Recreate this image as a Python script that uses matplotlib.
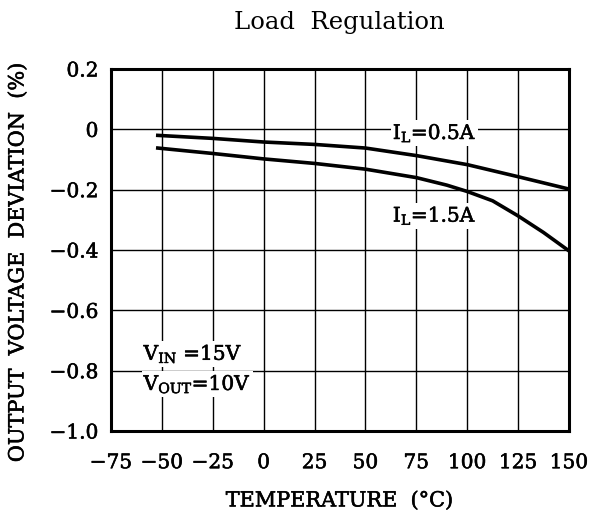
import matplotlib.pyplot as plt
import matplotlib.patheffects as pe

# data
temp = [-52, -25, 0, 25, 50, 75, 100, 125, 150]
dev_05a = [-0.020, -0.030, -0.042, -0.050, -0.062, -0.087, -0.117, -0.157, -0.198]
temp_15 = [-52, -25, 0, 25, 50, 75, 90, 100, 112.5, 125, 137.5, 150]
dev_15a = [-0.062, -0.080, -0.098, -0.113, -0.132, -0.160, -0.185, -0.206, -0.237, -0.287, -0.342, -0.403]

x_ticks = [-75, -50, -25, 0, 25, 50, 75, 100, 125, 150]
y_ticks = [-1.0, -0.8, -0.6, -0.4, -0.2, 0, 0.2]
y_tick_labels = ["\u22121.0", "\u22120.8", "\u22120.6", "\u22120.4", "\u22120.2", "0", "0.2"]

plt.rcParams.update({
    "font.family": "DejaVu Serif",
    "mathtext.fontset": "custom",
    "mathtext.rm": "DejaVu Serif",
    "mathtext.it": "DejaVu Serif",
    "mathtext.bf": "DejaVu Serif:bold",
})

# slightly heavier strokes, like the scanned datasheet lettering
heavy = [pe.withStroke(linewidth=0.4, foreground="black")]

fig = plt.figure(figsize=(5.96, 5.24), dpi=100)
ax = fig.add_axes([0.1862, 0.1775, 0.7685, 0.6908])

ax.plot(temp, dev_05a, color="black", linewidth=2.6, zorder=3)
ax.plot(temp_15, dev_15a, color="black", linewidth=2.6, zorder=3)

ax.set_xlim(-75, 150)
ax.set_ylim(-1.0, 0.2)
ax.set_xticks(x_ticks)
ax.set_yticks(y_ticks)
ax.set_yticklabels(y_tick_labels)
ax.tick_params(length=0, labelsize=14.5)
ax.tick_params(axis="x", pad=16)
ax.tick_params(axis="y", pad=9)
for lbl in ax.get_xticklabels() + ax.get_yticklabels():
    lbl.set_path_effects(heavy)

ax.grid(True, color="black", linewidth=1.0)
ax.set_axisbelow(True)
for spine in ax.spines.values():
    spine.set_linewidth(2.2)

box = dict(facecolor="white", edgecolor="none", pad=1.5)
notes = [
    (84, -0.013, "I$_\\mathregular{L}$=0.5A", "center"),
    (84, -0.287, "I$_\\mathregular{L}$=1.5A", "center"),
    (-59, -0.745, "V$_\\mathregular{IN}$ =15V", "left"),
    (-59, -0.845, "V$_\\mathregular{OUT}$=10V", "left"),
]
for x, y, s, ha in notes:
    t = ax.text(x, y, s, ha=ha, va="center", fontsize=14.5, bbox=box, zorder=4)
    t.set_path_effects(heavy)

fig.text(0.57, 0.958, "Load  Regulation", ha="center", va="center", fontsize=17.5)
t = fig.text(0.57, 0.044, "TEMPERATURE  (\u00b0C)", ha="center", va="center", fontsize=15)
t.set_path_effects(heavy)
t = fig.text(0.03, 0.50, "OUTPUT  VOLTAGE  DEVIATION  (%)", ha="center", va="center",
             rotation=90, fontsize=15)
t.set_path_effects(heavy)

fig.savefig("out.png", dpi=100)
